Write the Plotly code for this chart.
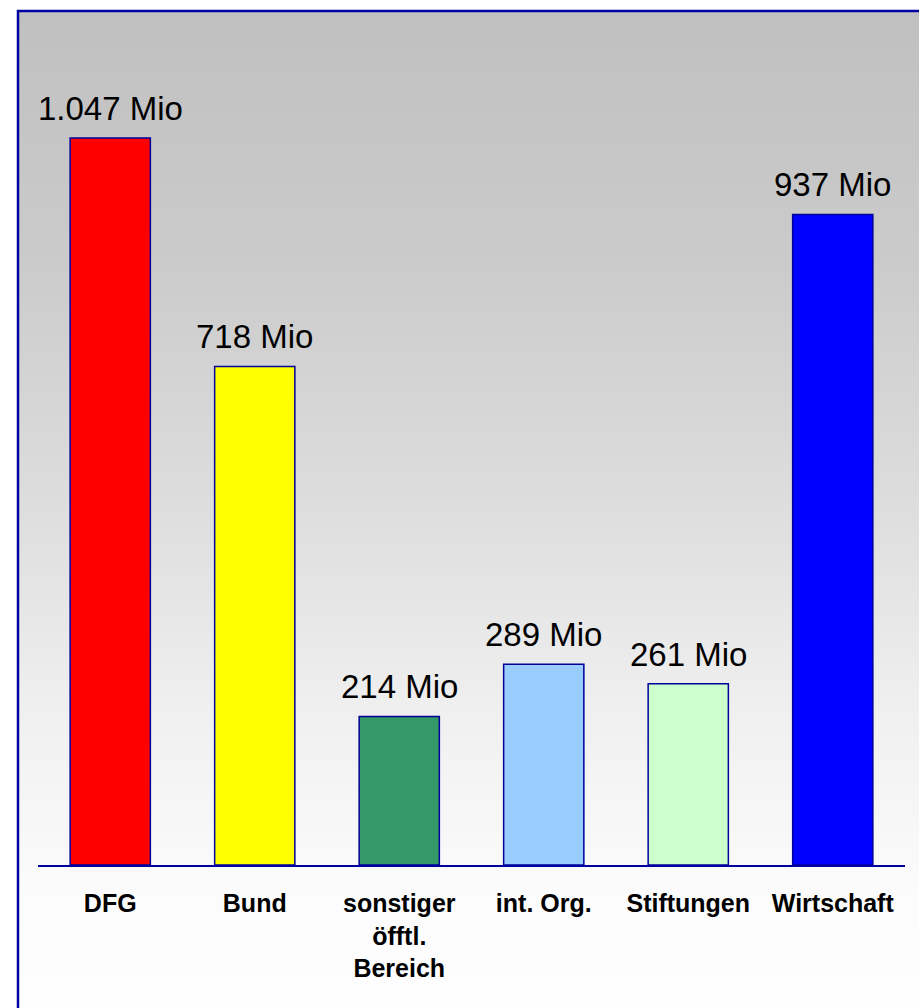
import plotly.graph_objects as go

# Funding sources and amounts (Mio)
categories = ["DFG", "Bund", "sonstiger<br>öfftl.<br>Bereich", "int. Org.", "Stiftungen", "Wirtschaft"]
values = [1047, 718, 214, 289, 261, 937]
bar_colors = ["#FF0000", "#FFFF00", "#339966", "#99CCFF", "#CCFFCC", "#0000FF"]

W, H = 919, 1008
FONT = "Liberation Sans, Arial, sans-serif"
FRAME = "#0000A0"


def fmt(v):
    return f"{v:,} Mio".replace(",", ".")


fig = go.Figure()
fig.add_trace(go.Bar(
    x=list(range(len(categories))),
    y=values,
    width=0.555,
    marker=dict(color=bar_colors, line=dict(color="#000099", width=1.5)),
    hoverinfo="skip",
))

# value labels above each bar
annotations = []
for i, v in enumerate(values):
    annotations.append(dict(
        x=i, y=v, xref="x", yref="y", text=fmt(v), showarrow=False,
        yanchor="bottom", yshift=9,
        font=dict(family=FONT, size=33, color="#000000"),
    ))

# vertical gradient background inside the frame
def px2py(py):
    return (H - py) / H

stops = [(11, 192), (265, 203), (515, 222), (715, 240), (900, 252), (1008, 254)]

def shade(py):
    for (a, ca), (b, cb) in zip(stops, stops[1:]):
        if a <= py <= b:
            t = (py - a) / (b - a)
            return round(ca + (cb - ca) * t)
    return stops[-1][1]

shapes = []
step = 4
y = 11
while y < H:
    c = shade(y + step / 2)
    shapes.append(dict(
        type="rect", xref="paper", yref="paper", layer="below",
        x0=18 / W, x1=1.02, y0=px2py(min(y + step, H + 2)), y1=px2py(y),
        fillcolor=f"rgb({c},{c},{c})", line=dict(width=0),
    ))
    y += step

# outer frame (extends past the right and bottom edges)
shapes.append(dict(
    type="rect", xref="paper", yref="paper", layer="below",
    x0=18 / W, x1=1.05, y0=-0.05, y1=px2py(11),
    fillcolor="rgba(0,0,0,0)", line=dict(color=FRAME, width=2.5),
))

fig.update_layout(
    width=W, height=H,
    margin=dict(l=0, r=0, t=0, b=0),
    paper_bgcolor="#FFFFFF",
    plot_bgcolor="rgba(0,0,0,0)",
    showlegend=False,
    shapes=shapes,
    annotations=annotations,
    xaxis=dict(
        domain=[38 / W, 905 / W],
        range=[-0.5, len(categories) - 0.5],
        tickmode="array",
        tickvals=list(range(len(categories))),
        ticktext=[f"<b>{c}</b>" for c in categories],
        tickfont=dict(family=FONT, size=25, color="#000000"),
        showline=True, linecolor=FRAME, linewidth=2,
        showgrid=False, zeroline=False,
        ticks="", ticklabelstandoff=15,
        fixedrange=True,
    ),
    yaxis=dict(
        domain=[px2py(865), px2py(11)],
        range=[0, 854 / (727 / 1047)],
        visible=False, showgrid=False, zeroline=False,
        fixedrange=True,
    ),
)

fig.write_html("out.html")
